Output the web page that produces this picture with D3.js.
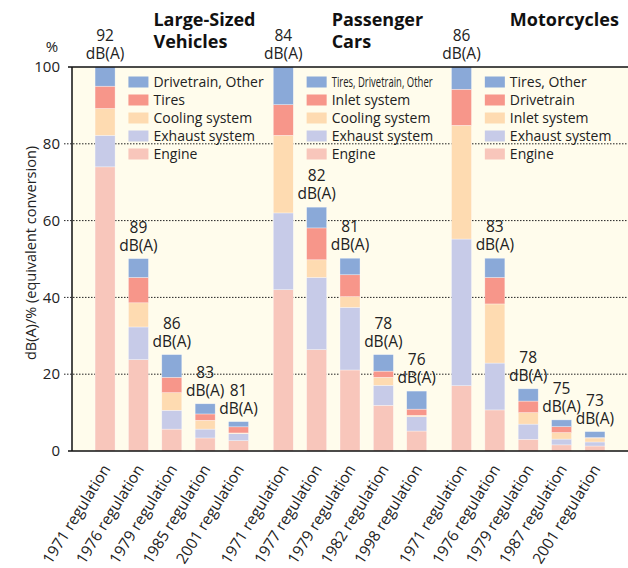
<!DOCTYPE html>
<html>
<head>
<meta charset="utf-8">
<script src="https://cdn.jsdelivr.net/npm/d3@7"></script>
<style>
  html, body { margin: 0; padding: 0; background: #fff; }
  svg { display: block; font-family: "Open Sans", "Noto Sans", sans-serif; }
</style>
</head>
<body>
<svg id="chart" width="628" height="568"></svg>
<script>
/* ── Data ───────────────────────────────────────────────────────── */
const groups      = ['Large-Sized Vehicles', 'Passenger Cars', 'Motorcycles'];
const groupTitles = [['Large-Sized', 'Vehicles'], ['Passenger', 'Cars'], ['Motorcycles']];

const regulations = [
  ['1971 regulation', '1976 regulation', '1979 regulation', '1985 regulation', '2001 regulation'],
  ['1971 regulation', '1977 regulation', '1979 regulation', '1982 regulation', '1998 regulation'],
  ['1971 regulation', '1976 regulation', '1979 regulation', '1987 regulation', '2001 regulation']
];
const dbLevels = [
  [92, 89, 86, 83, 81],
  [84, 82, 81, 78, 76],
  [86, 83, 78, 75, 73]
];

// noise sources, bottom of stack first
const sourceNames = [
  ['Engine', 'Exhaust system', 'Cooling system', 'Tires', 'Drivetrain, Other'],
  ['Engine', 'Exhaust system', 'Cooling system', 'Inlet system', 'Tires, Drivetrain, Other'],
  ['Engine', 'Exhaust system', 'Inlet system', 'Drivetrain', 'Tires, Other']
];

// % (equivalent conversion), one row per source, one column per regulation
const largeVehicles = [
  [74.0, 23.8, 5.7, 3.4, 2.7],
  [8.2, 8.5, 4.9, 2.3, 1.8],
  [7.0, 6.3, 4.6, 2.3, 0.2],
  [5.8, 6.6, 4.0, 1.65, 1.6],
  [5.0, 4.9, 5.9, 2.65, 1.35]
];
const passengerCars = [
  [42.0, 26.4, 21.1, 11.9, 5.2],
  [20.0, 18.8, 16.3, 5.2, 3.75],
  [20.2, 4.6, 2.8, 2.1, 0.35],
  [8.0, 8.3, 5.7, 1.6, 1.6],
  [9.8, 5.4, 4.3, 4.3, 4.7]
];
const motorcycles = [
  [17.0, 10.7, 3.05, 1.6, 1.3],
  [38.2, 12.2, 3.95, 1.5, 1.05],
  [29.6, 15.4, 3.0, 1.7, 1.05],
  [9.4, 6.9, 3.0, 1.55, 0.1],
  [5.8, 5.0, 3.2, 1.75, 1.55]
];
const groupValues = [largeVehicles, passengerCars, motorcycles];

const yTicks = [0, 20, 40, 60, 80, 100];
const colors = ['#f8c6bb', '#c7cbe8', '#fedbb1', '#f7968a', '#8aa9d8'];

/* ── Layout ─────────────────────────────────────────────────────── */
const PLOT = { left: 72, right: 628, top: 67, bottom: 451 };

const svg = d3.select('#chart');

const y = d3.scaleLinear().domain([0, 100]).range([PLOT.bottom, PLOT.top]);

const x0 = d3.scaleBand()
  .domain(groups)
  .range([PLOT.left, PLOT.right])
  .paddingInner(0.064)
  .paddingOuter(0.092);

const x1 = d3.scaleBand()
  .domain(d3.range(5))
  .range([0, x0.bandwidth()])
  .paddingInner(0.4)
  .paddingOuter(0.2);

/* ── Plot background & grid ─────────────────────────────────────── */
svg.append('rect')
  .attr('x', PLOT.left).attr('y', PLOT.top)
  .attr('width', PLOT.right - PLOT.left)
  .attr('height', PLOT.bottom - PLOT.top)
  .attr('fill', '#fffcec');

svg.append('g')
  .selectAll('line')
  .data(yTicks.filter(t => t > 0 && t < 100))
  .join('line')
  .attr('x1', PLOT.left - 8).attr('x2', PLOT.right)
  .attr('y1', d => y(d)).attr('y2', d => y(d))
  .attr('stroke', '#222')
  .attr('stroke-width', 1)
  .attr('stroke-dasharray', '1.5,1.5');

/* ── Stacked bars ───────────────────────────────────────────────── */
const stack = d3.stack().keys(d3.range(5));

groups.forEach((gName, gi) => {
  const vals = groupValues[gi];
  const rows = d3.range(5).map(r => {
    const o = {};
    vals.forEach((row, s) => { o[s] = row[r]; });
    return o;
  });
  const series = stack(rows);
  const gx = x0(gName);

  const g = svg.append('g').attr('transform', `translate(${gx},0)`);

  g.selectAll('g.layer')
    .data(series)
    .join('g')
    .attr('class', 'layer')
    .attr('fill', (d, i) => colors[i])
    .selectAll('rect')
    .data(d => d.map((p, r) => ({ p, r })))
    .join('rect')
    .attr('x', d => x1(d.r))
    .attr('width', x1.bandwidth())
    .attr('y', d => y(d.p[1]))
    .attr('height', d => Math.max(0, y(d.p[0]) - y(d.p[1])))
    .attr('stroke', '#ffffff')
    .attr('stroke-opacity', 0.55)
    .attr('stroke-width', 0.6);

  /* dB(A) labels above bars */
  const totals = rows.map(o => d3.sum(Object.values(o)));
  const lab = g.selectAll('text.db')
    .data(dbLevels[gi])
    .join('text')
    .attr('class', 'db')
    .attr('text-anchor', 'middle')
    .attr('font-size', 15.5)
    .attr('fill', '#222')
    .attr('transform', (d, r) =>
      `translate(${x1(r) + x1.bandwidth() / 2},${y(totals[r]) - 8})`);
  lab.append('tspan').attr('x', 0).attr('y', -18).text(d => d);
  lab.append('tspan').attr('x', 0).attr('y', 0).text('dB(A)');

  /* regulation labels */
  g.selectAll('text.reg')
    .data(regulations[gi])
    .join('text')
    .attr('class', 'reg')
    .attr('text-anchor', 'end')
    .attr('font-size', 15.5)
    .attr('fill', '#222')
    .attr('transform', (d, r) =>
      `translate(${x1(r) + x1.bandwidth() / 2 + 6},${PLOT.bottom + 18}) rotate(-58)`)
    .text(d => d);

  /* legend, aligned with second bar */
  const lx = x1(1);
  const legend = g.append('g');
  const names = sourceNames[gi].slice().reverse();
  const cols  = colors.slice().reverse();
  names.forEach((nm, i) => {
    legend.append('rect')
      .attr('x', lx).attr('y', 76.5 + i * 18)
      .attr('width', x1.bandwidth()).attr('height', 11)
      .attr('fill', cols[i]);
    const t = legend.append('text')
      .attr('x', lx + x1.bandwidth() + 5)
      .attr('y', 87 + i * 18)
      .attr('font-size', 14)
      .attr('fill', '#222')
      .text(nm);
    if (nm.length > 20) t.attr('textLength', 101).attr('lengthAdjust', 'spacingAndGlyphs');
  });

  /* group title */
  const title = g.append('text')
    .attr('x', lx + x1.bandwidth() + 5)
    .attr('font-size', 18)
    .attr('font-weight', 'bold')
    .attr('fill', '#111');
  groupTitles[gi].forEach((ln, i) =>
    title.append('tspan').attr('x', lx + x1.bandwidth() + 5).attr('y', 26 + i * 22).text(ln));
});

/* ── Frame ──────────────────────────────────────────────────────── */
svg.append('path')
  .attr('d', `M${PLOT.right},${PLOT.top} H${PLOT.left - 4} M${PLOT.left},${PLOT.top} V${PLOT.bottom} M${PLOT.left - 4},${PLOT.bottom} H${PLOT.right}`)
  .attr('fill', 'none')
  .attr('stroke', '#111')
  .attr('stroke-width', 1.5);

/* ── Y axis ─────────────────────────────────────────────────────── */
svg.append('g')
  .selectAll('text')
  .data(yTicks)
  .join('text')
  .attr('x', 60)
  .attr('y', d => y(d))
  .attr('dy', '0.35em')
  .attr('text-anchor', 'end')
  .attr('font-size', 15)
  .attr('fill', '#222')
  .text(d => d);

svg.append('text')
  .attr('x', 52).attr('y', 52)
  .attr('text-anchor', 'middle')
  .attr('font-size', 15)
  .attr('fill', '#222')
  .text('%');

svg.append('text')
  .attr('transform', 'translate(36,253) rotate(-90)')
  .attr('text-anchor', 'middle')
  .attr('font-size', 14.5)
  .attr('fill', '#222')
  .text('dB(A)/% (equivalent conversion)');
</script>
</body>
</html>
